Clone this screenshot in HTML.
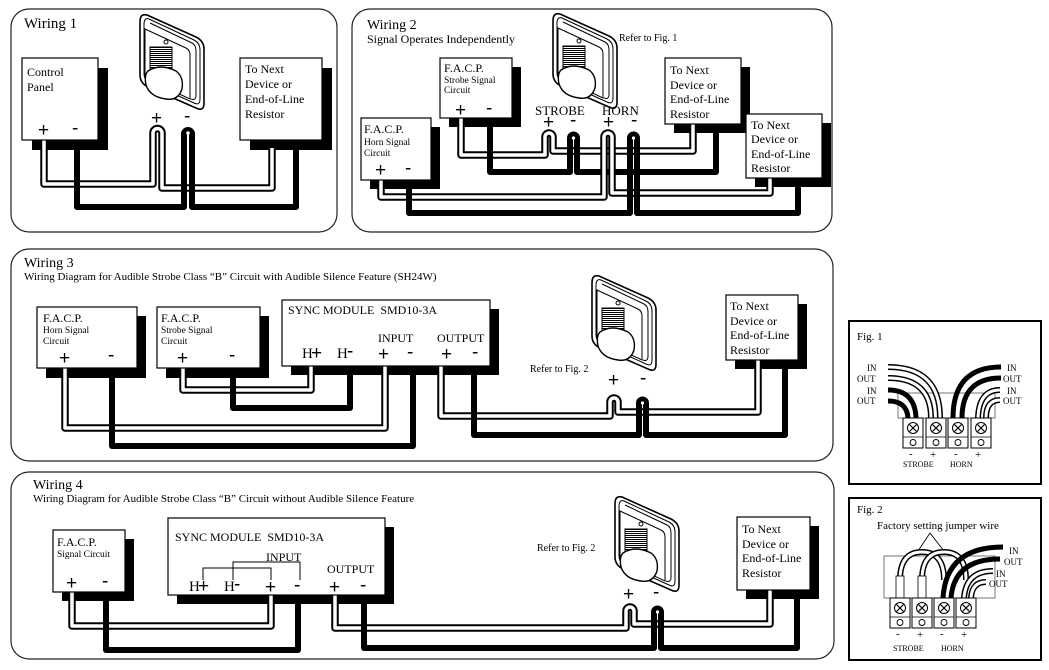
<!DOCTYPE html>
<html><head><meta charset="utf-8"><style>
html,body{margin:0;padding:0;background:#fff;}
svg{display:block;font-family:"Liberation Serif",serif;}
.wo{stroke:#000;stroke-width:7.5;fill:none;stroke-linejoin:round;}
.wi{stroke:#fff;stroke-width:3.5;fill:none;stroke-linejoin:round;}
.bk{stroke:#000;stroke-width:6;fill:none;stroke-linejoin:round;}
.pnl{fill:#fff;stroke:#222;stroke-width:1.2;}
.bx{fill:#fff;stroke:#000;stroke-width:1.2;}
.sh{fill:#000;}
.t{fill:#000;}
.pm{font-family:"Liberation Sans",sans-serif;font-size:19px;}
</style></head><body>
<svg width="1049" height="670" viewBox="0 0 1049 670" xmlns="http://www.w3.org/2000/svg">
<defs>
<pattern id="hatch" width="3" height="2" patternUnits="userSpaceOnUse"><rect width="3" height="1" fill="#000"/></pattern>
<g id="dev">
<path d="M7,0 L56,22 Q64,26 64,34 L64,88 Q64,97 56,93 L8,72 Q0,68 0,60 L0,7 Q0,-2 7,0Z" fill="#fff" stroke="#000" stroke-width="1.6"/>
<path d="M9,4 L54,25 Q60,28 60,35 L60,84 Q60,91 54,88 L10,68 Q4,65 4,59 L4,10 Q4,2 9,4Z" fill="none" stroke="#000" stroke-width="1"/>
<path d="M10,8 L52,28 Q56,30 56,36 L56,80 Q56,86 51,84" fill="none" stroke="#000" stroke-width="1"/>
<path d="M5,14 L46,33 Q50,35 50,40 L50,84 L5,63Z" fill="#fff" stroke="#000" stroke-width="1"/>
<circle cx="26" cy="27" r="2" fill="none" stroke="#000"/>
<rect x="10" y="32" width="22" height="24" fill="url(#hatch)" stroke="#000" stroke-width="1"/>
<path d="M8,56 Q20,48 36,56 Q44,62 42,74 Q38,86 26,84 Q10,82 6,70 Q4,60 8,56Z" fill="#fff" stroke="#000" stroke-width="1.4"/>
</g>
<g id="term">
<rect x="0" y="0" width="20" height="30" fill="#fff" stroke="#000" stroke-width="1"/>
<line x1="0" y1="19" x2="20" y2="19" stroke="#000" stroke-width="0.8"/>
<circle cx="10" cy="10" r="5.5" fill="#fff" stroke="#000" stroke-width="1"/>
<path d="M6.5,6.5 L13.5,13.5 M13.5,6.5 L6.5,13.5" stroke="#000" stroke-width="1.2"/>
<circle cx="10" cy="24.5" r="3" fill="#fff" stroke="#000" stroke-width="0.9"/>
</g>
</defs>

<!-- ================= WIRING 1 ================= -->
<rect class="pnl" x="11" y="9" width="326" height="223" rx="18"/>
<text class="t" x="24" y="28" font-size="15">Wiring 1</text>
<rect class="sh" x="32" y="68" width="76" height="82"/>
<rect class="sh" x="250" y="68" width="82" height="82"/>
<path class="wo" d="M44,140 V184 H153 V133 a4.5,4.5 0 0 1 9,0 V188 H272 V148"/>
<path class="wi" d="M44,140 V184 H153 V133 a4.5,4.5 0 0 1 9,0 V188 H272 V148"/>
<path class="bk" d="M77,140 V207 H184 V134 a4,4 0 0 1 8,0 V207 H296 V148"/>
<circle cx="188" cy="133" r="1.8" fill="#fff"/>
<rect class="bx" x="22" y="58" width="76" height="82"/>
<text class="t" x="27" y="76" font-size="12">Control</text>
<text class="t" x="27" y="91" font-size="12">Panel</text>
<text class="t pm" x="38" y="136">+</text>
<text class="t pm" x="72" y="134">-</text>
<rect class="bx" x="240" y="58" width="82" height="82"/>
<text class="t" x="245" y="73" font-size="12">To Next</text>
<text class="t" x="245" y="88" font-size="12">Device or</text>
<text class="t" x="245" y="103" font-size="12">End-of-Line</text>
<text class="t" x="245" y="118" font-size="12">Resistor</text>
<use href="#dev" x="140" y="15"/>
<text class="t pm" x="151" y="124">+</text>
<text class="t pm" x="184" y="122">-</text>

<!-- ================= WIRING 2 ================= -->
<rect class="pnl" x="352" y="9" width="480" height="223" rx="18"/>
<text class="t" x="367" y="29" font-size="14">Wiring 2</text>
<text class="t" x="367" y="43" font-size="12">Signal Operates Independently</text>
<rect class="sh" x="449" y="67" width="72" height="60"/>
<rect class="sh" x="370" y="127" width="70" height="62"/>
<rect class="sh" x="674" y="67" width="76" height="66"/>
<rect class="sh" x="755" y="123" width="76" height="64"/>
<path class="wo" d="M461,118 V155 H545 V137 a4,4 0 0 1 8,0 V151 H693 V124"/>
<path class="wi" d="M461,118 V155 H545 V137 a4,4 0 0 1 8,0 V151 H693 V124"/>
<path class="bk" d="M490,118 V172 H570 V138 a3.5,3.5 0 0 1 7,0 V172 H716 V124"/>
<path class="wo" d="M381,180 V197 H604 V137 a4,4 0 0 1 8,0 V193 H770 V178"/>
<path class="wi" d="M381,180 V197 H604 V137 a4,4 0 0 1 8,0 V193 H770 V178"/>
<path class="bk" d="M409,180 V213 H630 V138 a3.5,3.5 0 0 1 7,0 V213 H798 V178"/>
<circle cx="573.5" cy="138" r="1.6" fill="#fff"/>
<circle cx="633.5" cy="138" r="1.6" fill="#fff"/>
<rect class="bx" x="440" y="58" width="72" height="60"/>
<text class="t" x="444" y="72" font-size="12">F.A.C.P.</text>
<text class="t" x="444" y="83" font-size="9.5">Strobe Signal</text>
<text class="t" x="444" y="93" font-size="9.5">Circuit</text>
<text class="t pm" x="455" y="116">+</text>
<text class="t pm" x="486" y="114">-</text>
<rect class="bx" x="361" y="118" width="70" height="62"/>
<text class="t" x="364" y="133" font-size="12">F.A.C.P.</text>
<text class="t" x="364" y="145" font-size="9.5">Horn Signal</text>
<text class="t" x="364" y="156" font-size="9.5">Circuit</text>
<text class="t pm" x="375" y="176">+</text>
<text class="t pm" x="405" y="174">-</text>
<rect class="bx" x="665" y="58" width="76" height="66"/>
<text class="t" x="670" y="74" font-size="12">To Next</text>
<text class="t" x="670" y="89" font-size="12">Device or</text>
<text class="t" x="670" y="103" font-size="12">End-of-Line</text>
<text class="t" x="670" y="118" font-size="12">Resistor</text>
<rect class="bx" x="746" y="114" width="76" height="64"/>
<text class="t" x="751" y="129" font-size="12">To Next</text>
<text class="t" x="751" y="143" font-size="12">Device or</text>
<text class="t" x="751" y="158" font-size="12">End-of-Line</text>
<text class="t" x="751" y="172" font-size="12">Resistor</text>
<use href="#dev" x="553" y="14"/>
<text class="t" x="619" y="41" font-size="10">Refer to Fig. 1</text>
<text class="t" x="535" y="115" font-size="13">STROBE</text>
<text class="t" x="602" y="115" font-size="13">HORN</text>
<text class="t pm" x="543" y="128">+</text>
<text class="t pm" x="570" y="126">-</text>
<text class="t pm" x="603" y="128">+</text>
<text class="t pm" x="631" y="126">-</text>

<!-- ================= WIRING 3 ================= -->
<rect class="pnl" x="11" y="249" width="822" height="212" rx="18"/>
<text class="t" x="24" y="267" font-size="14">Wiring 3</text>
<text class="t" x="24" y="280" font-size="11">Wiring Diagram for Audible Strobe Class “B” Circuit with Audible Silence Feature (SH24W)</text>
<rect class="sh" x="46" y="316" width="100" height="62"/>
<rect class="sh" x="166" y="316" width="103" height="62"/>
<rect class="sh" x="291" y="309" width="208" height="66"/>
<rect class="sh" x="735" y="304" width="72" height="65"/>
<path class="wo" d="M65,366 V428 H385 V364"/>
<path class="wi" d="M65,366 V428 H385 V364"/>
<path class="bk" d="M112,366 V446 H413 V364"/>
<path class="wo" d="M183,366 V390 H311 V364"/>
<path class="wi" d="M183,366 V390 H311 V364"/>
<path class="bk" d="M233,366 V408 H350 V364"/>
<path class="wo" d="M441,364 V416 H610 V402 a4,4 0 0 1 8,0 V412 H758 V360"/>
<path class="wi" d="M441,364 V416 H610 V402 a4,4 0 0 1 8,0 V412 H758 V360"/>
<path class="bk" d="M474,364 V435 H639 V403 a3.5,3.5 0 0 1 7,0 V435 H785 V360"/>
<circle cx="642.5" cy="403" r="1.6" fill="#fff"/>
<rect class="bx" x="37" y="307" width="100" height="61"/>
<text class="t" x="43" y="322" font-size="12">F.A.C.P.</text>
<text class="t" x="43" y="333" font-size="9.5">Horn Signal</text>
<text class="t" x="43" y="344" font-size="9.5">Circuit</text>
<text class="t pm" x="59" y="364">+</text>
<text class="t pm" x="108" y="361">-</text>
<rect class="bx" x="157" y="307" width="103" height="61"/>
<text class="t" x="161" y="322" font-size="12">F.A.C.P.</text>
<text class="t" x="161" y="333" font-size="9.5">Strobe Signal</text>
<text class="t" x="161" y="344" font-size="9.5">Circuit</text>
<text class="t pm" x="177" y="364">+</text>
<text class="t pm" x="229" y="361">-</text>
<rect class="bx" x="282" y="300" width="208" height="66"/>
<text class="t" x="288" y="314" font-size="12">SYNC MODULE&#160;&#160;SMD10-3A</text>
<text class="t" x="378" y="342" font-size="12">INPUT</text>
<text class="t" x="437" y="342" font-size="12">OUTPUT</text>
<text class="t" x="302" y="358" font-size="15">H</text><text class="t pm" x="311" y="359">+</text>
<text class="t" x="337" y="358" font-size="15">H</text><text class="t pm" x="347" y="357">-</text>
<text class="t pm" x="378" y="360">+</text>
<text class="t pm" x="407" y="358">-</text>
<text class="t pm" x="441" y="360">+</text>
<text class="t pm" x="472" y="358">-</text>
<rect class="bx" x="726" y="295" width="72" height="65"/>
<text class="t" x="730" y="310" font-size="12">To Next</text>
<text class="t" x="730" y="325" font-size="12">Device or</text>
<text class="t" x="730" y="339" font-size="12">End-of-Line</text>
<text class="t" x="730" y="354" font-size="12">Resistor</text>
<use href="#dev" x="592" y="276"/>
<text class="t" x="530" y="372" font-size="10">Refer to Fig. 2</text>
<text class="t pm" x="608" y="386">+</text>
<text class="t pm" x="640" y="384">-</text>

<!-- ================= WIRING 4 ================= -->
<rect class="pnl" x="11" y="472" width="823" height="187" rx="18"/>
<text class="t" x="33" y="489" font-size="14">Wiring 4</text>
<text class="t" x="33" y="502" font-size="11">Wiring Diagram for Audible Strobe Class “B” Circuit without Audible Silence Feature</text>
<rect class="sh" x="62" y="539" width="72" height="62"/>
<rect class="sh" x="177" y="527" width="217" height="77"/>
<rect class="sh" x="746" y="526" width="73" height="73"/>
<path class="wo" d="M72,590 V626 H271 V595"/>
<path class="wi" d="M72,590 V626 H271 V595"/>
<path class="bk" d="M106,590 V650 H298 V595"/>
<path class="wo" d="M335,595 V628 H626 V611 a4,4 0 0 1 8,0 V624 H770 V590"/>
<path class="wi" d="M335,595 V628 H626 V611 a4,4 0 0 1 8,0 V624 H770 V590"/>
<path class="bk" d="M364,595 V648 H654 V612 a3.5,3.5 0 0 1 7,0 V648 H797 V590"/>
<circle cx="657.5" cy="612" r="1.6" fill="#fff"/>
<rect class="bx" x="53" y="530" width="72" height="62"/>
<text class="t" x="57" y="546" font-size="12">F.A.C.P.</text>
<text class="t" x="57" y="557" font-size="9.5">Signal Circuit</text>
<text class="t pm" x="66" y="589">+</text>
<text class="t pm" x="102" y="587">-</text>
<rect class="bx" x="168" y="518" width="217" height="77"/>
<text class="t" x="175" y="541" font-size="12">SYNC MODULE&#160;&#160;SMD10-3A</text>
<text class="t" x="266" y="561" font-size="12">INPUT</text>
<text class="t" x="327" y="573" font-size="12">OUTPUT</text>
<path d="M203,580 V568 H271 V580 M233,580 V562 H300 V580" fill="none" stroke="#000" stroke-width="1"/>
<text class="t" x="189" y="591" font-size="15">H</text><text class="t pm" x="198" y="592">+</text>
<text class="t" x="224" y="591" font-size="15">H</text><text class="t pm" x="234" y="590">-</text>
<text class="t pm" x="265" y="593">+</text>
<text class="t pm" x="294" y="591">-</text>
<text class="t pm" x="329" y="593">+</text>
<text class="t pm" x="360" y="591">-</text>
<rect class="bx" x="737" y="517" width="73" height="73"/>
<text class="t" x="742" y="533" font-size="12">To Next</text>
<text class="t" x="742" y="548" font-size="12">Device or</text>
<text class="t" x="742" y="562" font-size="12">End-of-Line</text>
<text class="t" x="742" y="577" font-size="12">Resistor</text>
<use href="#dev" x="615" y="497"/>
<text class="t" x="537" y="551" font-size="10">Refer to Fig. 2</text>
<text class="t pm" x="623" y="600">+</text>
<text class="t pm" x="653" y="598">-</text>

<!-- ================= FIG 1 ================= -->
<rect x="849" y="321" width="192" height="163" fill="#fff" stroke="#000" stroke-width="2"/>
<text class="t" x="857" y="340" font-size="11">Fig. 1</text>
<rect x="898" y="393" width="97" height="25" fill="#fff" stroke="#555" stroke-width="0.8"/>
<path class="wo" style="stroke-width:6" d="M888,367 Q940,367 940,418 M888,378 Q931,378 931,418"/>
<path class="wi" style="stroke-width:3" d="M888,367 Q940,367 940,418 M888,378 Q931,378 931,418"/>
<path class="bk" style="stroke-width:5" d="M888,390 Q915,390 916,418 M888,401 Q907,401 908,418"/>
<path class="bk" style="stroke-width:5" d="M1001,367 Q953,367 953,418 M1001,378 Q962,378 962,418"/>
<path class="wo" style="stroke-width:6" d="M1000,390 Q979,390 978,418 M1000,400 Q986,400 986,418"/>
<path class="wi" style="stroke-width:3" d="M1000,390 Q979,390 978,418 M1000,400 Q986,400 986,418"/>
<use href="#term" x="903" y="418"/>
<use href="#term" x="926" y="418"/>
<use href="#term" x="948" y="418"/>
<use href="#term" x="971" y="418"/>
<g font-size="9" class="t">
<text x="867" y="371">IN</text><text x="857" y="382">OUT</text>
<text x="867" y="394">IN</text><text x="857" y="404">OUT</text>
<text x="1007" y="371">IN</text><text x="1003" y="382">OUT</text>
<text x="1007" y="394">IN</text><text x="1003" y="404">OUT</text>
<text x="909" y="457" font-size="11">-</text><text x="930" y="458" font-size="11">+</text>
<text x="954" y="457" font-size="11">-</text><text x="975" y="458" font-size="11">+</text>
<text x="903" y="467" font-size="8">STROBE</text><text x="950" y="467" font-size="8">HORN</text>
</g>

<!-- ================= FIG 2 ================= -->
<rect x="849" y="498" width="192" height="162" fill="#fff" stroke="#000" stroke-width="2"/>
<text class="t" x="857" y="513" font-size="11">Fig. 2</text>
<text class="t" x="877" y="529" font-size="11">Factory setting jumper wire</text>
<rect x="884" y="556" width="111" height="42" fill="#fff" stroke="#555" stroke-width="0.8"/>
<path d="M918,551 L930,533 L944,551" fill="none" stroke="#000" stroke-width="0.9"/>
<path class="wo" style="stroke-width:6" d="M900,580 Q900,552 922,552 Q944,552 944,580"/>
<path class="wi" style="stroke-width:3" d="M900,580 Q900,552 922,552 Q944,552 944,580"/>
<path class="wo" style="stroke-width:6" d="M922,580 Q922,552 944,552 Q966,552 966,580"/>
<path class="wi" style="stroke-width:3" d="M922,580 Q922,552 944,552 Q966,552 966,580"/>
<rect x="896" y="576" width="8" height="22" fill="#fff" stroke="#000" stroke-width="0.8"/>
<rect x="918" y="576" width="8" height="22" fill="#fff" stroke="#000" stroke-width="0.8"/>
<path class="bk" style="stroke-width:5" d="M1003,547 Q946,547 943,598 M1000,559 Q954,559 951,598"/>
<path class="wo" style="stroke-width:6" d="M993,571 Q966,571 964,598 M986,582 Q972,582 971,598"/>
<path class="wi" style="stroke-width:3" d="M993,571 Q966,571 964,598 M986,582 Q972,582 971,598"/>
<use href="#term" x="890" y="598"/>
<use href="#term" x="912" y="598"/>
<use href="#term" x="934" y="598"/>
<use href="#term" x="956" y="598"/>
<g font-size="9" class="t">
<text x="1009" y="554">IN</text><text x="1004" y="565">OUT</text>
<text x="996" y="577">IN</text><text x="989" y="587">OUT</text>
<text x="896" y="637" font-size="11">-</text><text x="917" y="638" font-size="11">+</text>
<text x="940" y="637" font-size="11">-</text><text x="961" y="638" font-size="11">+</text>
<text x="893" y="651" font-size="8">STROBE</text><text x="941" y="651" font-size="8">HORN</text>
</g>
</svg>
</body></html>
